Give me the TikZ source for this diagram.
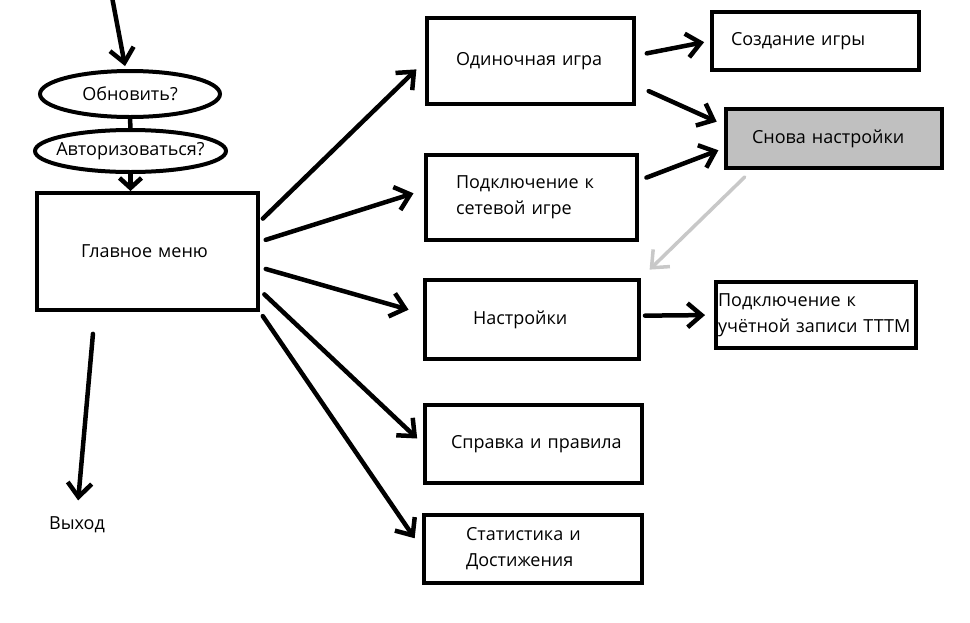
\documentclass[tikz,border=0pt]{standalone}
\usepackage{fontspec}
\setmainfont{Open Sans}
\usetikzlibrary{arrows.meta,shapes.geometric}
\definecolor{againgray}{HTML}{C0C0C0}
\definecolor{backline}{HTML}{C8C8C8}
\tikzset{
  box/.style 2 args={draw,line width=4pt,align=left,inner xsep=#1,text width=#2},
  ask/.style={draw,ellipse,line width=4pt,inner xsep=-25pt,inner ysep=0pt},
  arr/.style={line width=4.5pt,line cap=round,-{Straight Barb[length=14pt,width=24pt]}},
}

\begin{document}
\begin{tikzpicture}[x=1pt,y=-1pt,font=\fontsize{18}{26}\selectfont]
        \useasboundingbox (0,0) rectangle (970,622);

        \path
        (130,94) node[ask,minimum width=180pt,minimum height=46pt] (obn) {Обновить?}
        (130.5,151) node[ask,minimum width=191pt,minimum height=42pt] (avt) {Авторизоваться?}
        (147.5,251.5) node[box={44pt}{133pt},minimum height=117pt] (menu) {Главное меню}
        (77,525) node (exit) {Выход}
        ;
        \coordinate (enter) at (112,-3);

        \path
        (530.5,61) node[box={29pt}{149pt},minimum height=86pt] (single) {Одиночная~игра}
        (531.5,197.5) node[box={30pt}{151pt},minimum height=85pt] (net) {Подключение~к\\сетевой~игре}
        (532,319.5) node[box={48pt}{118pt},minimum height=79pt] (settings) {Настройки}
        (533.5,444) node[box={26pt}{165pt},minimum height=78pt] (help) {Справка~и~правила}
        (533,549) node[box={42pt}{134pt},minimum height=68pt] (stats) {Статистика~и\\Достижения}
        ;

        \path
        (815.5,41) node[box={19pt}{169pt},minimum height=58pt] (create) {Создание~игры}
        (834,138.5) node[box={26pt}{164pt},minimum height=59pt,fill=againgray] (again) {Снова~настройки}
        (816,315) node[box={2pt}{196pt},minimum height=66pt] (account) {Подключение~к\\учётной~записи~ТТТМ}
        ;

        \draw[arr,shorten >=3pt] (enter) -- (obn.100);
        \draw[line width=4.5pt] (obn.south) -- (avt.north);
        \draw[line width=4.5pt,line cap=round,-{Straight Barb[length=10pt,width=22pt]}] (avt.south) -- (avt.south |- menu.north);
        \draw[arr,shorten <=22pt,shorten >=13pt] (menu.-131) -- (exit.north);

        \draw[arr,shorten <=4pt,shorten >=12pt] (menu.15) -- (single.west);
        \draw[arr,shorten <=6pt,shorten >=11pt] (menu.5) -- (net.176);
        \draw[arr,shorten <=6pt,shorten >=15pt] (menu.-8) -- (settings.177);
        \draw[arr,shorten <=6pt,shorten >=8pt] (menu.-19) -- (help.west);
        \draw[arr,shorten <=5pt,shorten >=13pt] (menu.south east) -- (stats.west);

        \draw[arr,shorten <=11pt,shorten >=6pt] (single.3) -- (create.west);
        \draw[arr,shorten <=14pt,shorten >=8pt] (single.-13) -- (again.173);
        \draw[arr,shorten <=8pt,shorten >=6pt] (net.9) -- (again.185);
        \draw[arr,backline,line width=3.5pt,shorten <=10pt,shorten >=12pt] (again.201) -- (settings.north east);
        \draw[arr,shorten <=4pt,shorten >=9pt] (settings.2) -- (account.west);
      \end{tikzpicture}
\end{document}
